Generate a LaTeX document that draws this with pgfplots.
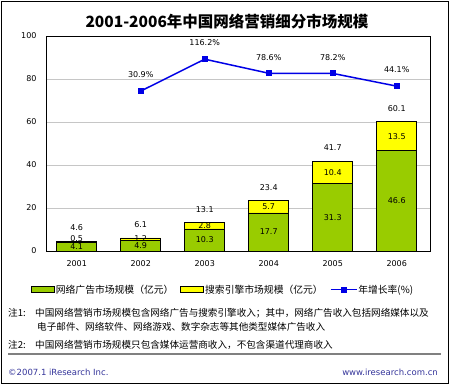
\documentclass[border=0pt]{standalone}
\usepackage{fontspec}
\setmainfont{DejaVu Sans}
\newfontfamily\cjk{Noto Sans CJK SC}
\usepackage{pgfplots}
\pgfplotsset{compat=1.18}
\definecolor{grn}{RGB}{153,204,0}
\definecolor{yel}{RGB}{255,255,0}
\definecolor{blu}{RGB}{0,0,230}
\definecolor{foot}{RGB}{51,51,153}
\pgfplotsset{
  barleg/.style={legend image code/.code={\draw[##1] (0pt,-3pt) rectangle (23pt,3pt);}},
  lineleg/.style={legend image code/.code={\draw[blu, line width=1.5pt] (0pt,0pt) -- (26pt,0pt); \draw[blu, fill=blu] (10.7pt,-2.3pt) rectangle (15.3pt,2.3pt);}},
}
\begin{document}
\begin{tikzpicture}[x=1pt,y=1pt]
\path[use as bounding box] (0,0) rectangle (450,385);
\draw[black, line width=1.2pt] (1.5,1.5) rectangle (448.5,383.5);
\node[font=\cjk\bfseries\fontsize{15.5}{18}\selectfont] at (227,363) {2001-2006年中国网络营销细分市场规模};
\pgfplotsset{base/.style={at={(46pt,134pt)}, anchor=south west, scale only axis,
  width=384pt, height=215pt, xmin=-0.48, xmax=5.52}}
% bars
\begin{axis}[base, ymin=0, ymax=100,
  ybar stacked, bar width=0.625,
  ytick={0,20,40,60,80,100}, xtick={0,1,2,3,4,5},
  xticklabels={2001,2002,2003,2004,2005,2006},
  ymajorgrids, grid style={gray!45, line width=0.6pt},
  major tick length=0pt,
  axis line style={black, line width=0.8pt},
  tick label style={font=\fontsize{8}{10}\selectfont, /pgf/number format/assume math mode=true},
  yticklabel style={xshift=-6pt},
  xticklabel style={yshift=-6pt},
  legend style={at={(0.46,-0.18)}, anchor=center, draw=none, fill=none,
    font=\cjk\fontsize{9.8}{11}\selectfont, legend columns=3,
    nodes={inner sep=1pt},
    /tikz/every even column/.append style={column sep=6pt}},
  ]
\addplot[fill=grn, draw=black, line width=0.7pt, barleg]
  coordinates {(0,4.1) (1,4.9) (2,10.3) (3,17.7) (4,31.3) (5,46.6)};
\addlegendentry{网络广告市场规模（亿元）}
\addplot[fill=yel, draw=black, line width=0.7pt, barleg]
  coordinates {(0,0.5) (1,1.2) (2,2.8) (3,5.7) (4,10.4) (5,13.5)};
\addlegendentry{搜索引擎市场规模（亿元）}
\addlegendimage{lineleg}
\addlegendentry{年增长率(\%)}
\end{axis}
% bar labels
\begin{axis}[base, ymin=0, ymax=100, hide axis,
  nodes near coords, point meta=explicit symbolic,
  every node near coord/.append style={font=\fontsize{8}{10}\selectfont, anchor=center}]
\addplot[draw=none, mark=none] table[meta=l] {
x y l
0 2.2 4.1
1 2.45 4.9
2 5.15 10.3
3 8.85 17.7
4 15.65 31.3
5 23.3 46.6
};
\addplot[draw=none, mark=none] table[meta=l] {
x y l
0 5.6 0.5
1 5.7 1.2
2 11.7 2.8
3 20.55 5.7
4 36.5 10.4
5 53.35 13.5
};
\addplot[draw=none, mark=none, every node near coord/.append style={anchor=south, yshift=7pt}] table[meta=l] {
x y l
0 4.6 4.6
1 6.1 6.1
2 13.1 13.1
3 23.4 23.4
4 41.7 41.7
5 60.1 60.1
};
\end{axis}
% growth line
\begin{axis}[base, ymin=-396.6, ymax=178.2, hide axis]
\addplot[blu, line width=1.5pt, mark=square*, mark size=2.3pt,
  nodes near coords={\pgfmathprintnumber[fixed, precision=1, fixed zerofill, assume math mode=true]{\pgfplotspointmeta}\%},
  every node near coord/.append style={font=\fontsize{8}{10}\selectfont, black, anchor=south, yshift=9pt}]
  coordinates {(1,30.9) (2,116.2) (3,78.6) (4,78.2) (5,44.1)};
\end{axis}
\begin{scope}[font=\cjk\fontsize{9.6}{11}\selectfont]
\node[anchor=west, inner sep=0] at (8,72) {注1:};
\node[anchor=west, inner sep=0] at (35,72) {中国网络营销市场规模包含网络广告与搜索引擎收入；其中，网络广告收入包括网络媒体以及};
\node[anchor=west, inner sep=0] at (37,58) {电子邮件、网络软件、网络游戏、数字杂志等其他类型媒体广告收入};
\node[anchor=west, inner sep=0] at (8,40) {注2:};
\node[anchor=west, inner sep=0] at (35,40) {中国网络营销市场规模只包含媒体运营商收入，不包含渠道代理商收入};
\end{scope}
\draw[gray, line width=1.8pt] (8,31) -- (441,31);
\node[anchor=west, inner sep=0, text=foot, font=\fontsize{8.5}{10}\selectfont] at (8,13) {©2007.1 iResearch Inc.};
\node[anchor=east, inner sep=0, text=foot, font=\fontsize{8.5}{10}\selectfont] at (438,13) {www.iresearch.com.cn};
\end{tikzpicture}
\end{document}
